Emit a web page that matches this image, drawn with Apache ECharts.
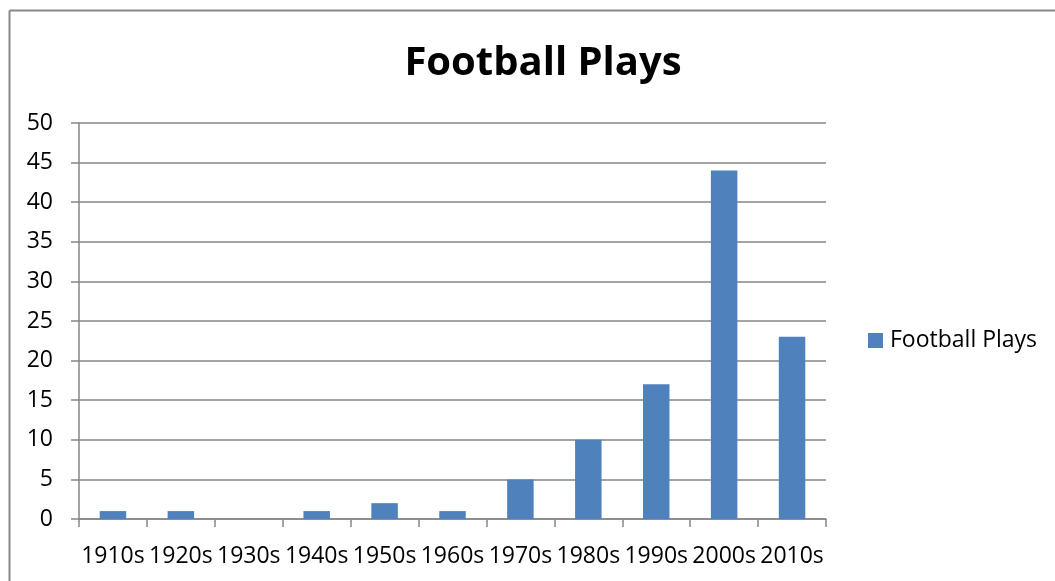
<!DOCTYPE html>
<html>
<head>
<meta charset="utf-8">
<script src="https://cdn.jsdelivr.net/npm/echarts@6/dist/echarts.min.js"></script>
<style>
html,body{margin:0;padding:0;background:#fff;}
#chart{width:1055px;height:581px;}
</style>
</head>
<body>
<div id="chart"></div>
<script>
const categories = ['1910s','1920s','1930s','1940s','1950s','1960s','1970s','1980s','1990s','2000s','2010s'];
const plays = [1, 1, 0, 1, 2, 1, 5, 10, 17, 44, 23];
const seriesName = 'Football Plays';
const titleText = 'Football Plays';

const FONT = '"Open Sans", sans-serif';
const chart = echarts.init(document.getElementById('chart'));
chart.setOption({
  animation: false,
  backgroundColor: '#ffffff',
  title: {
    text: titleText,
    left: 538, top: 39, textAlign: 'center',
    textStyle: { fontFamily: FONT, fontSize: 40, fontWeight: 'bold', color: '#000' }
  },
  legend: {
    data: [seriesName],
    left: 868, top: 329, padding: 0,
    itemWidth: 15, itemHeight: 15, itemGap: 8,
    icon: 'rect',
    textStyle: { fontFamily: FONT, fontSize: 23, color: '#000', padding: [0,0,0,2] }
  },
  grid: { left: 79, right: 229, top: 123, bottom: 62, containLabel: false },
  xAxis: {
    type: 'category',
    data: categories,
    boundaryGap: true,
    axisLine: { lineStyle: { color: '#868686', width: 1.5 } },
    axisTick: { show: true, alignWithLabel: false, length: 8, lineStyle: { color: '#868686', width: 1.5 } },
    axisLabel: { fontFamily: FONT, fontSize: 23, color: '#000', margin: 26, interval: 0 }
  },
  yAxis: {
    type: 'value',
    min: 0, max: 50, interval: 5,
    axisLine: { show: true, lineStyle: { color: '#868686', width: 1.5 } },
    axisTick: { show: true, length: 8, lineStyle: { color: '#868686', width: 1.5 } },
    axisLabel: { fontFamily: FONT, fontSize: 23, color: '#000', margin: 26 },
    splitLine: { show: true, lineStyle: { color: '#868686', width: 1.5 } }
  },
  series: [{
    name: seriesName,
    type: 'bar',
    data: plays,
    barCategoryGap: '61%',
    itemStyle: { color: '#4F81BD' }
  }],
  graphic: [
    { type: 'line', shape: { x1: 9.5, y1: 10.5, x2: 1055, y2: 10.5 }, style: { stroke: '#888', lineWidth: 2 } },
    { type: 'line', shape: { x1: 9.5, y1: 10.5, x2: 9.5, y2: 581 }, style: { stroke: '#888', lineWidth: 2 } }
  ]
});
</script>
</body>
</html>
